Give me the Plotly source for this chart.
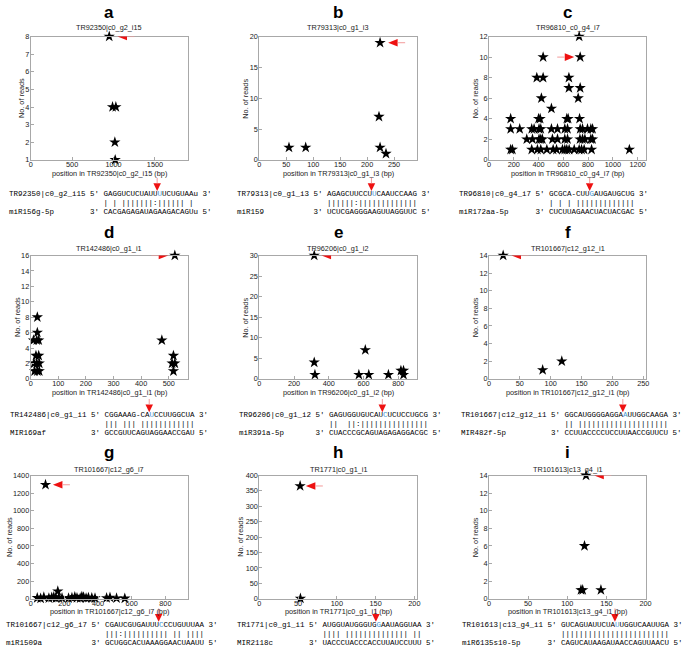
import plotly.graph_objects as go

W, H = 685, 662

# ---------------- data ----------------
panel_letters = ["a", "b", "c", "d", "e", "f", "g", "h", "i"]
plot_titles = ["TR92350|c0_g2_i15", "TR79313|c0_g1_i3", "TR96810_c0_g4_i7",
               "TR142486|c0_g1_i1", "TR96206|c0_g1_i2", "TR101667|c12_g12_i1",
               "TR101667|c12_g6_i7", "TR1771|c0_g1_i1", "TR101613|c13_g4_i1"]

a_pos = [948, 988, 1028, 1016, 1020]
a_reads = [8, 4, 4, 2, 1]

b_pos = [55, 86, 224, 222, 224, 235]
b_reads = [2, 2, 19, 7, 2, 1]

c_pos = [728,
         437, 736,
         386, 437, 645,
         645, 736,
         423, 720,
         504,
         175, 400, 413, 628, 639, 731,
         175, 248, 345, 364, 404, 418, 504, 553, 612, 634, 736, 755, 795, 822, 836,
         305, 351, 404, 418, 431, 512, 553, 612, 634, 734, 755, 774, 822, 836,
         175, 189, 345, 391, 418, 467, 518, 545, 593, 612, 628, 647, 688, 728, 747, 768, 828, 1133]
c_reads = [12,
           10, 10,
           8, 8, 8,
           7, 7,
           6, 6,
           5,
           4, 4, 4, 4, 4, 4,
           3, 3, 3, 3, 3, 3, 3, 3, 3, 3, 3, 3, 3, 3, 3,
           2, 2, 2, 2, 2, 2, 2, 2, 2, 2, 2, 2, 2, 2,
           1, 1, 1, 1, 1, 1, 1, 1, 1, 1, 1, 1, 1, 1, 1, 1, 1, 1]

d_pos = [24, 24, 10, 22, 29, 19, 29, 12, 22, 31, 14, 24, 31, 475, 522, 517, 512, 522, 517]
d_reads = [8, 6, 5, 5, 5, 3, 3, 2, 2, 2, 1, 1, 1, 5, 16, 3, 2, 2, 1]

e_pos = [316, 316, 320, 573, 610, 630, 743, 815, 830, 830]
e_reads = [30, 4, 1, 1, 7, 1, 1, 2, 2, 1]

f_pos = [23, 87, 118]
f_reads = [14, 1, 2]

g_pos = [88, 161, 39, 59, 78, 108, 125, 137, 150, 167, 186, 225, 245, 262,
         275, 294, 304, 314, 329, 343, 363, 382, 451, 471, 510, 559]
g_reads = [1295, 86, 10, 5, 18, 8, 14, 20, 6, 15, 9, 7, 12, 22,
           11, 6, 25, 19, 8, 13, 10, 7, 9, 15, 6, 4]

h_pos = [52.6, 53]
h_reads = [366, 1]

i_pos = [124, 122, 117.5, 119.7, 143]
i_reads = [14, 6, 1, 1, 1]

positions = [a_pos, b_pos, c_pos, d_pos, e_pos, f_pos, g_pos, h_pos, i_pos]
reads = [a_reads, b_reads, c_reads, d_reads, e_reads, f_reads, g_reads, h_reads, i_reads]

transcript_len = [1900, 292, 1270, 570, 906, 255, 935, 203, 201]
y_limits = [[1, 8], [0, 20], [0, 12], [0, 16], [0, 30], [0, 14], [0, 1400], [0, 400], [0, 14]]
x_tick_step = [500, 50, 200, 100, 200, 50, 200, 50, 50]
y_tick_step = [1, 5, 2, 2, 5, 2, 200, 50, 2]

# red arrows marking the cleavage-derived tag
arrow_pos = [1048, 239, 688, 498, 358, 36.5, 132, 60, 134.5]
arrow_reads = [8, 19, 10, 16, 30, 14, 1295, 366, 14]
arrow_dir = ["left", "left", "right", "right", "left", "left", "left", "left", "left"]

# target / miRNA alignments
target_names = ["TR92350|c0_g2_i15", "TR79313|c0_g1_i3", "TR96810|c0_g4_i7",
                "TR142486|c0_g1_i1", "TR96206|c0_g1_i2", "TR101667|c12_g12_i1",
                "TR101667|c12_g6_i7", "TR1771|c0_g1_i1", "TR101613|c13_g4_i1"]
target_seqs = ["GAGGUCUCUAUUUUCUGUAAu", "AGAGCUUCCUUCAAUCCAAG", "GCGCA-CUUGAUGAUGCUG",
               "CGGAAAG-CAUCCUUGGCUA", "GAGUGGUGUCAUCUCUCCUGCG", "GGCAUGGGGAGGAAUUGGCAAGA",
               "CGAUCGUGAUUUCCCUGUUUAA", "AUGGUAUGGGUGGAAUAGGUAA", "GUCAGUAUUCUAUUGGUCAAUUGA"]
mirna_names = ["miR156g-5p", "miR159", "miR172aa-5p", "MIR169af", "miR391a-5p",
               "MIR482f-5p", "miR1509a", "MIR2118c", "miR6135s10-5p"]
mirna_seqs = ["CACGAGAGAUAGAAGACAGUu", "UCUCGAGGGAAGUUAGGUUC", "CUCUUAGAACUACUACGAC",
              "GCCGUUCAGUAGGAACCGAU", "CUACCCGCAGUAGAGAGGACGC", "CCUUACCCCUCCUUAACCGUUCU",
              "GCUGGCACUAAAGGAACUAAUU", "UACCCUACCCACCUUAUCCUUU", "CAGUCAUAAGAUAACCAGUUAACU"]
cleave_index = [12, 10, 9, 10, 12, 13, 12, 12, 12]

# ---------------- layout geometry (pixels) ----------------
col_left = [29, 260, 492]
row_top = [33, 255, 478]
PW, PH = 159, 125
letter_y = [9, 232, 455]
title_y = [24, 248, 472]
xlabel_y = [171.5, 393.5, 615.5]
ylabel_x = [19, 246, 478, 15, 246, 478, 7, 241, 478]
align_y = [[192.7, 201.7, 210.7], [417, 426, 434.5], [629.3, 638.8, 648.3]]
align_x = [5, 235, 460, 6, 237, 462, 2, 235, 463]
ALN_FS = 7.5
CW = 0.6 * ALN_FS

SANS = "Liberation Sans, Arial, sans-serif"
MONO = "Liberation Mono, Courier New, monospace"
AX_COL = "#a8a8a8"
TXT = "#222222"
RED = "#ee1111"
BLUE = "#3f97d6"
SMALL = 7.3


def pxx(x):
    return x / W


def pxy(y):
    return 1 - y / H


def nb(s):
    return s.replace(" ", "\u00a0")


PAIRS = {("A", "U"): "|", ("U", "A"): "|", ("G", "C"): "|", ("C", "G"): "|",
         ("G", "U"): ":", ("U", "G"): ":"}


def match_line(t, m):
    return "".join(PAIRS.get((a.upper(), b.upper()), " ") for a, b in zip(t, m))


fig = go.Figure()
layout = {}
annotations = []
shapes = []

for i in range(9):
    r, c = divmod(i, 3)
    n = "" if i == 0 else str(i + 1)
    x0 = col_left[c]
    y0 = row_top[r]
    fig.add_trace(go.Scatter(
        x=positions[i], y=reads[i], mode="markers",
        marker=dict(symbol="star", size=8.5, color="black", line=dict(width=0)),
        xaxis="x" + n, yaxis="y" + n, cliponaxis=False,
        showlegend=False, hoverinfo="skip"))

    axis_common = dict(showline=True, mirror=True, linecolor=AX_COL, linewidth=1,
                       ticks="inside", ticklen=3, tickcolor=AX_COL, tickwidth=1,
                       showgrid=False, zeroline=False,
                       tickfont=dict(family=SANS, size=SMALL, color=TXT))
    layout["xaxis" + n] = dict(domain=[pxx(x0), pxx(x0 + PW)], anchor="y" + n,
                               range=[0, transcript_len[i]], tick0=0,
                               dtick=x_tick_step[i], ticklabelstandoff=-3,
                               **axis_common)
    layout["yaxis" + n] = dict(domain=[pxy(y0 + PH), pxy(y0)], anchor="x" + n,
                               range=y_limits[i], tick0=0, dtick=y_tick_step[i],
                               ticklabelstandoff=-1, **axis_common)

    cx = x0 + PW / 2
    annotations.append(dict(text=panel_letters[i], x=pxx(cx), y=pxy(letter_y[r]),
                            xref="paper", yref="paper", showarrow=False,
                            xanchor="center", yanchor="middle",
                            font=dict(family=SANS, size=17, color="black", weight="bold")))
    annotations.append(dict(text=plot_titles[i], x=pxx(cx), y=pxy(title_y[r]),
                            xref="paper", yref="paper", showarrow=False,
                            xanchor="center", yanchor="middle",
                            font=dict(family=SANS, size=SMALL, color=TXT)))
    annotations.append(dict(text="position in " + plot_titles[i] + " (bp)",
                            x=pxx(cx), y=pxy(xlabel_y[r]),
                            xref="paper", yref="paper", showarrow=False,
                            xanchor="center", yanchor="middle",
                            font=dict(family=SANS, size=SMALL, color=TXT)))
    annotations.append(dict(text="No. of reads", x=pxx(ylabel_x[i]), y=pxy(y0 + PH / 2),
                            xref="paper", yref="paper", showarrow=False, textangle=-90,
                            xanchor="center", yanchor="middle",
                            font=dict(family=SANS, size=SMALL, color=TXT)))

    # in-plot red arrow
    s = 1 if arrow_dir[i] == "left" else -1
    shapes.append(dict(type="path", xref="x" + n, yref="y" + n,
                       xsizemode="pixel", ysizemode="pixel",
                       xanchor=arrow_pos[i], yanchor=arrow_reads[i],
                       path=f"M0,0 L{9.5*s},3.8 L{9.5*s},-3.8 Z",
                       fillcolor=RED, line=dict(width=0)))
    shapes.append(dict(type="line", xref="x" + n, yref="y" + n,
                       xsizemode="pixel", ysizemode="pixel",
                       xanchor=arrow_pos[i], yanchor=arrow_reads[i],
                       x0=9.5 * s, x1=17 * s, y0=0, y1=0,
                       line=dict(color="#f39a9a", width=1)))

    # alignment text
    L = len(target_names[i])
    k = cleave_index[i]
    tseq = target_seqs[i]
    top = (nb(target_names[i] + " 5' " + tseq[:k]) +
           "<span style='color:" + BLUE + "'>" + tseq[k] + "</span>" +
           nb(tseq[k + 1:] + " 3'"))
    mid = nb(" " * (L + 4) + match_line(tseq, mirna_seqs[i]))
    bot = nb(mirna_names[i].ljust(L + 1) + "3' " + mirna_seqs[i] + " 5'")
    for j, line in enumerate([top, mid, bot]):
        annotations.append(dict(text=line, x=pxx(align_x[i]), y=pxy(align_y[r][j]),
                                xref="paper", yref="paper", showarrow=False,
                                xanchor="left", yanchor="middle",
                                font=dict(family=MONO, size=ALN_FS, color="black")))

    # red down arrow above cleavage site
    xc = align_x[i] + 1 + (L + 4 + k + 0.5) * CW
    ytip = align_y[r][0] - 3
    shapes.append(dict(type="path", xref="paper", yref="paper",
                       path=(f"M{pxx(xc-3.8)},{pxy(ytip-8)} L{pxx(xc+3.8)},{pxy(ytip-8)} "
                             f"L{pxx(xc)},{pxy(ytip)} Z"),
                       fillcolor=RED, line=dict(width=0)))
    shapes.append(dict(type="line", xref="paper", yref="paper",
                       x0=pxx(xc), x1=pxx(xc), y0=pxy(ytip - 13.5), y1=pxy(ytip - 8),
                       line=dict(color="#f39a9a", width=1)))

fig.update_layout(width=W, height=H, margin=dict(l=0, r=0, t=0, b=0),
                  paper_bgcolor="white", plot_bgcolor="white",
                  annotations=annotations, shapes=shapes, **layout)

fig.write_html("out.html", config={"displayModeBar": False},
               post_script="document.body.style.margin='0px';document.body.style.padding='0px';")
